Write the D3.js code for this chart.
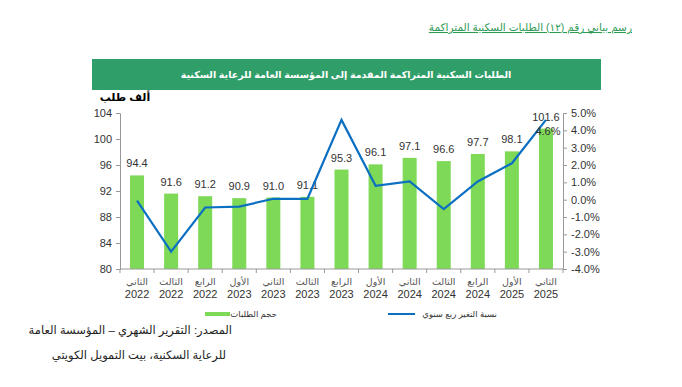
<!DOCTYPE html>
<html>
<head>
<meta charset="utf-8">
<script src="https://d3js.org/d3.v7.min.js"></script>
<style>
  body { margin: 0; background: #fff; }
  svg { display: block; font-family: "Liberation Sans", "DejaVu Sans", sans-serif; }
</style>
</head>
<body>
<svg id="chart" width="682" height="387"></svg>
<script>
// data
const quarters = ['الثاني', 'الثالث', 'الرابع', 'الأول', 'الثاني', 'الثالث', 'الرابع',
  'الأول', 'الثاني', 'الثالث', 'الرابع', 'الأول', 'الثاني'];
const years = ['2022', '2022', '2022', '2023', '2023', '2023', '2023',
  '2024', '2024', '2024', '2024', '2025', '2025'];
const requests = [94.4, 91.6, 91.2, 90.9, 91.0, 91.1, 95.3, 96.1, 97.1, 96.6, 97.7, 98.1, 101.6];
const growth = [-0.05, -3.0, -0.45, -0.4, 0.05, 0.05, 4.6, 0.8, 1.05, -0.55, 1.05, 2.1, 4.6];
const leftTicks = [80, 84, 88, 92, 96, 100, 104];
const rightTicks = [-4, -3, -2, -1, 0, 1, 2, 3, 4, 5];

const svg = d3.select('#chart');
const plot = { left: 120, right: 563, top: 113, bottom: 269 };

// header link-style caption
svg.append('text')
  .attr('x', 632).attr('y', 31)
  .attr('text-anchor', 'start')
  .attr('direction', 'rtl')
  .attr('font-size', 10.5)
  .attr('fill', '#2e9a55')
  .attr('text-decoration', 'underline')
  .text('رسم بياني رقم (١٢) الطلبات السكنية المتراكمة');

// green banner
svg.append('rect')
  .attr('x', 92).attr('y', 59).attr('width', 509).attr('height', 31)
  .attr('fill', '#2f9e68');
svg.append('text')
  .attr('x', 346).attr('y', 78)
  .attr('text-anchor', 'middle')
  .attr('font-size', 9.5).attr('font-weight', 'bold')
  .attr('fill', '#fff')
  .text('الطلبات السكنية المتراكمة المقدمة إلى المؤسسة العامة للرعاية السكنية');

// unit label
svg.append('text')
  .attr('x', 125).attr('y', 101)
  .attr('text-anchor', 'middle')
  .attr('font-size', 11).attr('font-weight', 'bold')
  .text('ألف طلب');

const x = d3.scaleBand()
  .domain(d3.range(requests.length))
  .range([plot.left, plot.right]);
const y = d3.scaleLinear().domain([80, 104]).range([plot.bottom, plot.top]);
const y2 = d3.scaleLinear().domain([-4, 5]).range([plot.bottom, plot.top]);

const barW = 14;

// bars
svg.append('g')
  .selectAll('rect')
  .data(requests)
  .join('rect')
  .attr('x', (d, i) => x(i) + x.bandwidth() / 2 - barW / 2)
  .attr('y', d => y(d))
  .attr('width', barW)
  .attr('height', d => y(80) - y(d))
  .attr('fill', '#7ed957');

// bar labels
svg.append('g')
  .selectAll('text')
  .data(requests)
  .join('text')
  .attr('x', (d, i) => x(i) + x.bandwidth() / 2)
  .attr('y', d => y(d) - 8)
  .attr('text-anchor', 'middle')
  .attr('font-size', 11)
  .attr('fill', '#333')
  .text(d => d.toFixed(1));

// left axis
const leftAxis = svg.append('g')
  .attr('transform', `translate(${plot.left},0)`)
  .call(d3.axisLeft(y).tickValues(leftTicks).tickSize(4).tickPadding(4));
leftAxis.select('.domain').attr('stroke', '#999');
leftAxis.selectAll('.tick line').attr('stroke', '#999');
leftAxis.selectAll('.tick text')
  .attr('font-size', 11).attr('fill', '#333')
  .attr('font-family', '"Liberation Sans", sans-serif');

// right axis
const rightAxis = svg.append('g')
  .attr('transform', `translate(${plot.right},0)`)
  .call(d3.axisRight(y2).tickValues(rightTicks).tickSize(4).tickPadding(4)
    .tickFormat(d => d.toFixed(1) + '%'));
rightAxis.select('.domain').attr('stroke', '#999');
rightAxis.selectAll('.tick line').attr('stroke', '#999');
rightAxis.selectAll('.tick text')
  .attr('font-size', 11).attr('fill', '#333')
  .attr('font-family', '"Liberation Sans", sans-serif');

// bottom axis line with ticks between categories
svg.append('line')
  .attr('x1', plot.left).attr('x2', plot.right)
  .attr('y1', plot.bottom).attr('y2', plot.bottom)
  .attr('stroke', '#999');
svg.append('g')
  .selectAll('line')
  .data(d3.range(requests.length + 1))
  .join('line')
  .attr('x1', i => plot.left + i * x.step())
  .attr('x2', i => plot.left + i * x.step())
  .attr('y1', plot.bottom).attr('y2', plot.bottom + 4)
  .attr('stroke', '#999');

// category labels
const cat = svg.append('g')
  .selectAll('g')
  .data(quarters)
  .join('g')
  .attr('transform', (d, i) => `translate(${x(i) + x.bandwidth() / 2},0)`);
cat.append('text')
  .attr('y', 285)
  .attr('text-anchor', 'middle')
  .attr('font-size', 9.5).attr('fill', '#555')
  .text(d => d);
cat.append('text')
  .attr('y', 298)
  .attr('text-anchor', 'middle')
  .attr('font-size', 11).attr('fill', '#333')
  .text((d, i) => years[i]);

// growth line
const line = d3.line()
  .x((d, i) => x(i) + x.bandwidth() / 2)
  .y(d => y2(d));
svg.append('path')
  .datum(growth)
  .attr('d', line)
  .attr('fill', 'none')
  .attr('stroke', '#0b6fc2')
  .attr('stroke-width', 2.2);

// label on last point
const lastI = growth.length - 1;
svg.append('text')
  .attr('x', x(lastI) + x.bandwidth() / 2 + 2)
  .attr('y', y2(growth[lastI]) + 15)
  .attr('text-anchor', 'middle')
  .attr('font-size', 11).attr('fill', '#333')
  .text(growth[lastI].toFixed(1) + '%');

// legend
const legend = [
  { label: 'حجم الطلبات', color: '#7ed957', x1: 205, x2: 230, tx: 277, w: 4 },
  { label: 'نسبة التغير ربع سنوي', color: '#0b6fc2', x1: 388, x2: 415, tx: 497, w: 2 }
];
const lg = svg.append('g').selectAll('g').data(legend).join('g');
lg.append('line')
  .attr('x1', d => d.x1).attr('x2', d => d.x2)
  .attr('y1', 314).attr('y2', 314)
  .attr('stroke', d => d.color).attr('stroke-width', d => d.w);
lg.append('text')
  .attr('x', d => d.tx).attr('y', 317)
  .attr('direction', 'rtl')
  .attr('font-size', 8.5).attr('fill', '#333')
  .text(d => d.label);

// source note
svg.append('text')
  .attr('x', 232).attr('y', 334)
  .attr('direction', 'rtl')
  .attr('font-size', 11.5).attr('fill', '#222')
  .text('المصدر: التقرير الشهري – المؤسسة العامة');
svg.append('text')
  .attr('x', 226).attr('y', 359)
  .attr('direction', 'rtl')
  .attr('font-size', 11.5).attr('fill', '#222')
  .text('للرعاية السكنية، بيت التمويل الكويتي');
</script>
</body>
</html>
